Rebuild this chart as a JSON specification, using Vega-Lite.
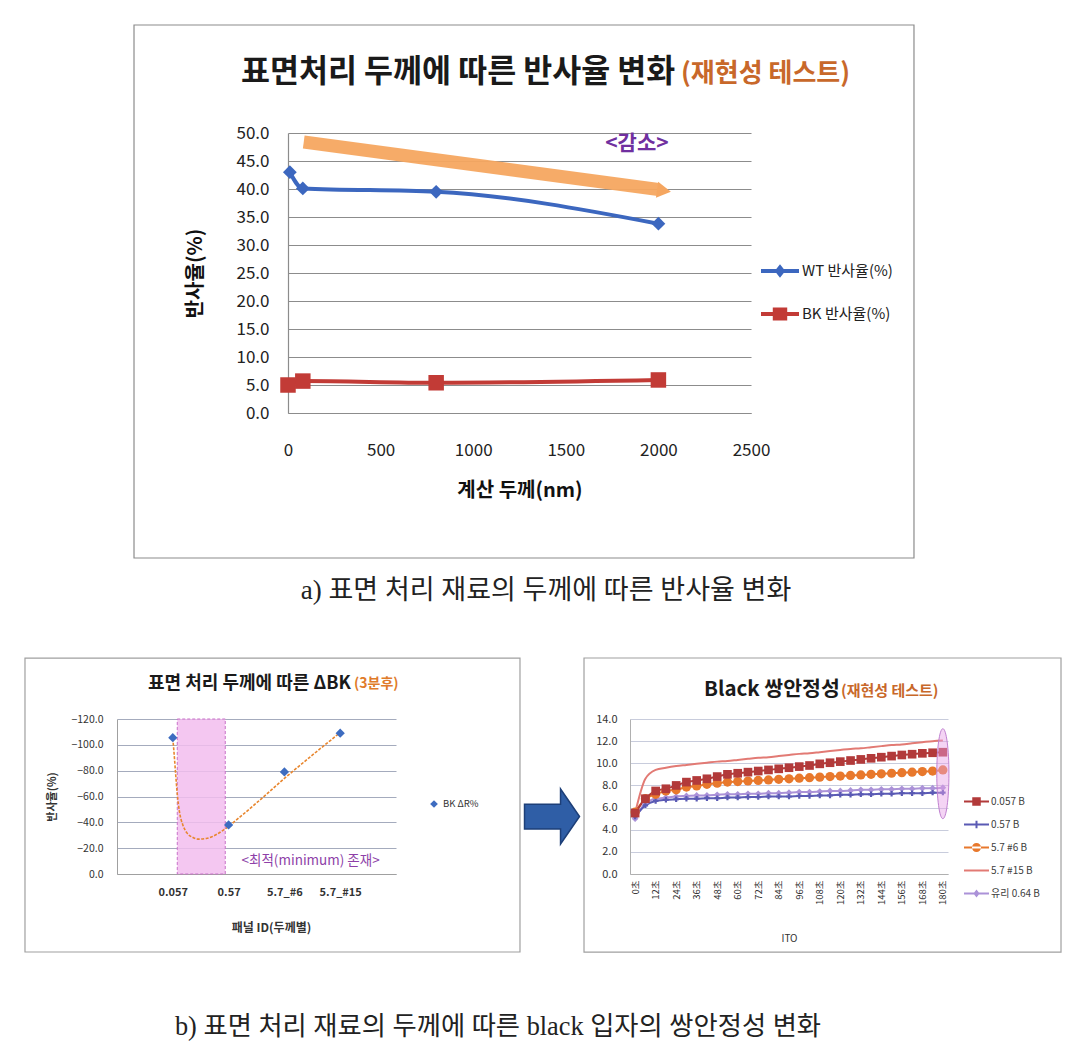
{
  "$schema": "https://vega.github.io/schema/vega-lite/v6.json",
  "background": "white",
  "padding": {"left": 24, "top": 24, "right": 0, "bottom": 0},
  "autosize": {"type": "pad"},
  "spacing": 36,
  "resolve": {
    "scale": {"color": "independent", "fill": "independent", "stroke": "independent", "shape": "independent"},
    "legend": {"color": "independent", "fill": "independent", "stroke": "independent", "shape": "independent"}
  },
  "config": {
    "font": "Noto Sans CJK KR",
    "view": {"stroke": null},
    "axis": {"labelFont": "Noto Sans CJK KR", "titleFont": "Noto Sans CJK KR", "labelFlush": false, "labelOverlap": false, "tickCount": 50},
    "legend": {"labelFont": "Noto Sans CJK KR"},
    "text": {"font": "Noto Sans CJK KR"}
  },
  "datasets": {
    "top": [
      {"series": "WT 반사율(%)", "thickness": 10, "reflectance": 43.0},
      {"series": "WT 반사율(%)", "thickness": 80, "reflectance": 40.1},
      {"series": "WT 반사율(%)", "thickness": 800, "reflectance": 39.5},
      {"series": "WT 반사율(%)", "thickness": 2000, "reflectance": 33.8},
      {"series": "BK 반사율(%)", "thickness": 0, "reflectance": 5.0},
      {"series": "BK 반사율(%)", "thickness": 80, "reflectance": 5.7},
      {"series": "BK 반사율(%)", "thickness": 800, "reflectance": 5.4},
      {"series": "BK 반사율(%)", "thickness": 2000, "reflectance": 5.9}
    ],
    "arrow": [
      {"thickness": 85, "reflectance": 48.4},
      {"thickness": 2000, "reflectance": 39.9}
    ],
    "dbk": [
      {"series": "BK ΔR%", "panel": 1, "dr": -105.5},
      {"series": "BK ΔR%", "panel": 2, "dr": -38},
      {"series": "BK ΔR%", "panel": 3, "dr": -79},
      {"series": "BK ΔR%", "panel": 4, "dr": -109}
    ],
    "trend": [
      {"panel": 1.0, "dr": -105}, {"panel": 1.02, "dr": -95}, {"panel": 1.05, "dr": -78},
      {"panel": 1.08, "dr": -62}, {"panel": 1.12, "dr": -48}, {"panel": 1.18, "dr": -38},
      {"panel": 1.25, "dr": -32}, {"panel": 1.35, "dr": -28.5}, {"panel": 1.45, "dr": -27},
      {"panel": 1.6, "dr": -27.5}, {"panel": 1.8, "dr": -31}, {"panel": 1.94, "dr": -35},
      {"panel": 2.2, "dr": -44}, {"panel": 2.5, "dr": -55}, {"panel": 3.0, "dr": -74},
      {"panel": 3.5, "dr": -92}, {"panel": 4.0, "dr": -109.5}
    ],
    "stab": [
      {"s":"0.057 B","t":0,"v":5.5},{"s":"0.057 B","t":6,"v":6.8},{"s":"0.057 B","t":12,"v":7.5},{"s":"0.057 B","t":18,"v":7.7},{"s":"0.057 B","t":24,"v":8.0},{"s":"0.057 B","t":30,"v":8.3},{"s":"0.057 B","t":36,"v":8.45},{"s":"0.057 B","t":42,"v":8.6},{"s":"0.057 B","t":48,"v":8.8},{"s":"0.057 B","t":54,"v":9.0},{"s":"0.057 B","t":60,"v":9.1},{"s":"0.057 B","t":66,"v":9.2},{"s":"0.057 B","t":72,"v":9.3},{"s":"0.057 B","t":78,"v":9.4},{"s":"0.057 B","t":84,"v":9.5},{"s":"0.057 B","t":90,"v":9.6},{"s":"0.057 B","t":96,"v":9.7},{"s":"0.057 B","t":102,"v":9.8},{"s":"0.057 B","t":108,"v":9.95},{"s":"0.057 B","t":114,"v":10.05},{"s":"0.057 B","t":120,"v":10.15},{"s":"0.057 B","t":126,"v":10.25},{"s":"0.057 B","t":132,"v":10.35},{"s":"0.057 B","t":138,"v":10.45},{"s":"0.057 B","t":144,"v":10.55},{"s":"0.057 B","t":150,"v":10.65},{"s":"0.057 B","t":156,"v":10.75},{"s":"0.057 B","t":162,"v":10.82},{"s":"0.057 B","t":168,"v":10.9},{"s":"0.057 B","t":174,"v":10.95},{"s":"0.057 B","t":180,"v":11.0},
      {"s":"0.57 B","t":0,"v":5.2},{"s":"0.57 B","t":6,"v":6.2},{"s":"0.57 B","t":12,"v":6.6},{"s":"0.57 B","t":18,"v":6.7},{"s":"0.57 B","t":24,"v":6.75},{"s":"0.57 B","t":30,"v":6.8},{"s":"0.57 B","t":36,"v":6.8},{"s":"0.57 B","t":42,"v":6.85},{"s":"0.57 B","t":48,"v":6.85},{"s":"0.57 B","t":54,"v":6.9},{"s":"0.57 B","t":60,"v":6.9},{"s":"0.57 B","t":66,"v":6.95},{"s":"0.57 B","t":72,"v":6.95},{"s":"0.57 B","t":78,"v":7.0},{"s":"0.57 B","t":84,"v":7.0},{"s":"0.57 B","t":90,"v":7.0},{"s":"0.57 B","t":96,"v":7.05},{"s":"0.57 B","t":102,"v":7.05},{"s":"0.57 B","t":108,"v":7.1},{"s":"0.57 B","t":114,"v":7.1},{"s":"0.57 B","t":120,"v":7.15},{"s":"0.57 B","t":126,"v":7.15},{"s":"0.57 B","t":132,"v":7.2},{"s":"0.57 B","t":138,"v":7.2},{"s":"0.57 B","t":144,"v":7.25},{"s":"0.57 B","t":150,"v":7.25},{"s":"0.57 B","t":156,"v":7.3},{"s":"0.57 B","t":162,"v":7.3},{"s":"0.57 B","t":168,"v":7.3},{"s":"0.57 B","t":174,"v":7.35},{"s":"0.57 B","t":180,"v":7.35},
      {"s":"5.7 #6 B","t":0,"v":5.6},{"s":"5.7 #6 B","t":6,"v":6.8},{"s":"5.7 #6 B","t":12,"v":7.2},{"s":"5.7 #6 B","t":18,"v":7.5},{"s":"5.7 #6 B","t":24,"v":7.6},{"s":"5.7 #6 B","t":30,"v":7.85},{"s":"5.7 #6 B","t":36,"v":7.95},{"s":"5.7 #6 B","t":42,"v":8.1},{"s":"5.7 #6 B","t":48,"v":8.2},{"s":"5.7 #6 B","t":54,"v":8.3},{"s":"5.7 #6 B","t":60,"v":8.35},{"s":"5.7 #6 B","t":66,"v":8.4},{"s":"5.7 #6 B","t":72,"v":8.45},{"s":"5.7 #6 B","t":78,"v":8.5},{"s":"5.7 #6 B","t":84,"v":8.55},{"s":"5.7 #6 B","t":90,"v":8.6},{"s":"5.7 #6 B","t":96,"v":8.65},{"s":"5.7 #6 B","t":102,"v":8.7},{"s":"5.7 #6 B","t":108,"v":8.75},{"s":"5.7 #6 B","t":114,"v":8.8},{"s":"5.7 #6 B","t":120,"v":8.85},{"s":"5.7 #6 B","t":126,"v":8.9},{"s":"5.7 #6 B","t":132,"v":8.95},{"s":"5.7 #6 B","t":138,"v":9.0},{"s":"5.7 #6 B","t":144,"v":9.05},{"s":"5.7 #6 B","t":150,"v":9.1},{"s":"5.7 #6 B","t":156,"v":9.15},{"s":"5.7 #6 B","t":162,"v":9.2},{"s":"5.7 #6 B","t":168,"v":9.25},{"s":"5.7 #6 B","t":174,"v":9.3},{"s":"5.7 #6 B","t":180,"v":9.4},
      {"s":"5.7 #15 B","t":0,"v":5.5},{"s":"5.7 #15 B","t":6,"v":8.6},{"s":"5.7 #15 B","t":12,"v":9.4},{"s":"5.7 #15 B","t":18,"v":9.6},{"s":"5.7 #15 B","t":24,"v":9.75},{"s":"5.7 #15 B","t":30,"v":9.85},{"s":"5.7 #15 B","t":36,"v":9.95},{"s":"5.7 #15 B","t":42,"v":10.05},{"s":"5.7 #15 B","t":48,"v":10.15},{"s":"5.7 #15 B","t":54,"v":10.2},{"s":"5.7 #15 B","t":60,"v":10.3},{"s":"5.7 #15 B","t":66,"v":10.4},{"s":"5.7 #15 B","t":72,"v":10.5},{"s":"5.7 #15 B","t":78,"v":10.55},{"s":"5.7 #15 B","t":84,"v":10.65},{"s":"5.7 #15 B","t":90,"v":10.75},{"s":"5.7 #15 B","t":96,"v":10.85},{"s":"5.7 #15 B","t":102,"v":10.9},{"s":"5.7 #15 B","t":108,"v":11.0},{"s":"5.7 #15 B","t":114,"v":11.1},{"s":"5.7 #15 B","t":120,"v":11.2},{"s":"5.7 #15 B","t":126,"v":11.3},{"s":"5.7 #15 B","t":132,"v":11.35},{"s":"5.7 #15 B","t":138,"v":11.45},{"s":"5.7 #15 B","t":144,"v":11.55},{"s":"5.7 #15 B","t":150,"v":11.65},{"s":"5.7 #15 B","t":156,"v":11.7},{"s":"5.7 #15 B","t":162,"v":11.8},{"s":"5.7 #15 B","t":168,"v":11.9},{"s":"5.7 #15 B","t":174,"v":12.0},{"s":"5.7 #15 B","t":180,"v":12.05},
      {"s":"유리 0.64 B","t":0,"v":5.0},{"s":"유리 0.64 B","t":6,"v":6.4},{"s":"유리 0.64 B","t":12,"v":6.8},{"s":"유리 0.64 B","t":18,"v":6.9},{"s":"유리 0.64 B","t":24,"v":7.0},{"s":"유리 0.64 B","t":30,"v":7.05},{"s":"유리 0.64 B","t":36,"v":7.1},{"s":"유리 0.64 B","t":42,"v":7.1},{"s":"유리 0.64 B","t":48,"v":7.15},{"s":"유리 0.64 B","t":54,"v":7.2},{"s":"유리 0.64 B","t":60,"v":7.2},{"s":"유리 0.64 B","t":66,"v":7.25},{"s":"유리 0.64 B","t":72,"v":7.25},{"s":"유리 0.64 B","t":78,"v":7.3},{"s":"유리 0.64 B","t":84,"v":7.3},{"s":"유리 0.64 B","t":90,"v":7.35},{"s":"유리 0.64 B","t":96,"v":7.4},{"s":"유리 0.64 B","t":102,"v":7.4},{"s":"유리 0.64 B","t":108,"v":7.45},{"s":"유리 0.64 B","t":114,"v":7.5},{"s":"유리 0.64 B","t":120,"v":7.5},{"s":"유리 0.64 B","t":126,"v":7.55},{"s":"유리 0.64 B","t":132,"v":7.6},{"s":"유리 0.64 B","t":138,"v":7.6},{"s":"유리 0.64 B","t":144,"v":7.65},{"s":"유리 0.64 B","t":150,"v":7.65},{"s":"유리 0.64 B","t":156,"v":7.7},{"s":"유리 0.64 B","t":162,"v":7.7},{"s":"유리 0.64 B","t":168,"v":7.75},{"s":"유리 0.64 B","t":174,"v":7.75},{"s":"유리 0.64 B","t":180,"v":7.8}
    ]
  },
  "vconcat": [
    {
      "hconcat": [
        {
          "width": 1,
          "height": 1,
          "data": {"values": [{}]},
          "mark": {"type": "point", "opacity": 0},
          "encoding": {}
        },
        {
          "width": 463,
          "height": 280,
          "layer": [
            {
              "data": {"values": [{}]},
              "mark": {"type": "rect", "opacity": 0, "fill": "white"},
              "encoding": {
                "x": {"datum": -1420, "type": "quantitative"},
                "x2": {"datum": 3380},
                "y": {"datum": 69.29, "type": "quantitative"},
                "y2": {"datum": -37.14}
              }
            },
            {
              "data": {"values": [{}]},
              "mark": {"type": "rect", "filled": false, "stroke": "#8c8c8c", "strokeWidth": 1.2},
              "encoding": {
                "x": {"datum": -831.5, "type": "quantitative"},
                "x2": {"datum": 3380},
                "y": {"datum": 69.29, "type": "quantitative"},
                "y2": {"datum": -25.89}
              }
            },
            {
              "data": {"name": "arrow"},
              "mark": {"type": "line", "color": "#f5a660", "strokeWidth": 13, "strokeCap": "butt", "opacity": 0.95},
              "encoding": {
                "x": {"field": "thickness", "type": "quantitative"},
                "y": {"field": "reflectance", "type": "quantitative"}
              }
            },
            {
              "data": {"values": [{}]},
              "mark": {"type": "point", "shape": "triangle-right", "filled": true, "color": "#f5a660", "opacity": 1, "size": 260, "angle": 8},
              "encoding": {
                "x": {"datum": 2030, "type": "quantitative"},
                "y": {"datum": 39.7, "type": "quantitative"}
              }
            },
            {
              "data": {"name": "top"},
              "transform": [{"filter": {"field": "series", "equal": "WT 반사율(%)"}}],
              "mark": {"type": "line", "strokeWidth": 4, "interpolate": "monotone", "color": "#3c67bf"},
              "encoding": {
                "x": {
                  "field": "thickness", "type": "quantitative",
                  "scale": {"domain": [0, 2500], "nice": false, "zero": false},
                  "axis": {
                    "title": "계산 두께(nm)", "values": [0, 500, 1000, 1500, 2000, 2500], "format": "d",
                    "grid": false, "ticks": false, "tickSize": 0, "domainColor": "#8c8c8c", "domainWidth": 1.2,
                    "labelFontSize": 17, "labelColor": "#222", "labelPadding": 29,
                    "titleFontSize": 20, "titleFontWeight": "bold", "titleColor": "#111", "titlePadding": 22
                  }
                },
                "y": {
                  "field": "reflectance", "type": "quantitative",
                  "scale": {"domain": [0, 50], "nice": false, "zero": false},
                  "axis": {
                    "title": "반사율(%)", "values": [0, 5, 10, 15, 20, 25, 30, 35, 40, 45, 50], "format": ".1f",
                    "grid": true, "gridColor": "#8c8c8c", "gridWidth": 1.2, "ticks": false, "tickSize": 0,
                    "domainColor": "#8c8c8c", "domainWidth": 1.2,
                    "labelFontSize": 17, "labelColor": "#222", "labelPadding": 19,
                    "titleFontSize": 20, "titleFontWeight": "bold", "titleColor": "#111", "titlePadding": 30
                  }
                }
              }
            },
            {
              "data": {"name": "top"},
              "transform": [{"filter": {"field": "series", "equal": "BK 반사율(%)"}}],
              "mark": {"type": "line", "strokeWidth": 4, "interpolate": "monotone", "color": "#c23b36"},
              "encoding": {
                "x": {"field": "thickness", "type": "quantitative"},
                "y": {"field": "reflectance", "type": "quantitative"}
              }
            },
            {
              "data": {"name": "top"},
              "transform": [{"filter": {"field": "series", "equal": "WT 반사율(%)"}}],
              "mark": {"type": "point", "shape": "diamond", "filled": true, "opacity": 1, "color": "#3c67bf", "size": 190},
              "encoding": {
                "x": {"field": "thickness", "type": "quantitative"},
                "y": {"field": "reflectance", "type": "quantitative"}
              }
            },
            {
              "data": {"name": "top"},
              "transform": [{"filter": {"field": "series", "equal": "BK 반사율(%)"}}],
              "mark": {"type": "point", "shape": "square", "filled": true, "opacity": 1, "color": "#c23b36", "size": 240},
              "encoding": {
                "x": {"field": "thickness", "type": "quantitative"},
                "y": {"field": "reflectance", "type": "quantitative"}
              }
            },
            {
              "data": {"name": "top"},
              "transform": [{"filter": "false"}],
              "mark": {"type": "point", "filled": true, "opacity": 1},
              "encoding": {
                "fill": {
                  "field": "series", "type": "nominal",
                  "scale": {"domain": ["WT 반사율(%)", "BK 반사율(%)"], "range": ["#3c67bf", "#c23b36"]},
                  "legend": {
                    "orient": "none", "legendX": 473, "legendY": 119, "title": null,
                    "symbolSize": 1444, "symbolStrokeWidth": 0, "labelFontSize": 15, "labelColor": "#222",
                    "labelOffset": 3, "rowPadding": 16
                  }
                },
                "shape": {
                  "field": "series", "type": "nominal",
                  "scale": {
                    "domain": ["WT 반사율(%)", "BK 반사율(%)"],
                    "range": [
                      "M-1,-0.1H1V0.1H-1Z M0,-0.36L0.28,0L0,0.36L-0.28,0Z",
                      "M-1,-0.1H1V0.1H-1Z M-0.38,-0.34H0.38V0.34H-0.38Z"
                    ]
                  }
                }
              }
            },
            {
              "data": {"values": [{}]},
              "mark": {"type": "text", "align": "left", "baseline": "middle", "fontSize": 31.5, "fontWeight": "bold", "color": "#1a1a1a"},
              "encoding": {
                "x": {"datum": -253.8, "type": "quantitative"},
                "y": {"datum": 60.71, "type": "quantitative"},
                "text": {"value": "표면처리 두께에 따른 반사율 변화"}
              }
            },
            {
              "data": {"values": [{}]},
              "mark": {"type": "text", "align": "left", "baseline": "middle", "fontSize": 26, "fontWeight": "bold", "color": "#c8682a"},
              "encoding": {
                "x": {"datum": 2122, "type": "quantitative"},
                "y": {"datum": 60.5, "type": "quantitative"},
                "text": {"value": "(재현성 테스트)"}
              }
            },
            {
              "data": {"values": [{}]},
              "mark": {"type": "text", "align": "center", "baseline": "middle", "fontSize": 21, "fontWeight": "bold", "color": "#7030a0"},
              "encoding": {
                "x": {"datum": 1884, "type": "quantitative"},
                "y": {"datum": 48.0, "type": "quantitative"},
                "text": {"value": "<감소>"}
              }
            },
            {
              "data": {"values": [{}]},
              "mark": {"type": "text", "align": "center", "baseline": "middle", "fontSize": 27, "color": "#222", "font": "Liberation Serif, Noto Sans CJK KR"},
              "encoding": {
                "x": {"datum": 1393, "type": "quantitative"},
                "y": {"datum": -31.79, "type": "quantitative"},
                "text": {"value": "a) 표면 처리 재료의 두께에 따른 반사율 변화"}
              }
            }
          ]
        }
      ],
      "spacing": 170,
      "bounds": "flush",
      "resolve": {
        "scale": {"color": "independent", "fill": "independent", "stroke": "independent", "shape": "independent"},
        "legend": {"color": "independent", "fill": "independent", "stroke": "independent", "shape": "independent"}
      }
    },
    {
      "hconcat": [
        {
          "width": 279,
          "height": 155,
          "layer": [
            {
              "data": {"values": [{}]},
              "mark": {"type": "rect", "filled": false, "stroke": "#a0a0a0", "strokeWidth": 1.2},
              "encoding": {
                "x": {"datum": -1.649, "type": "quantitative"},
                "x2": {"datum": 7.222},
                "y": {"datum": -167.2, "type": "quantitative"},
                "y2": {"datum": 60.4}
              }
            },
            {
              "data": {"values": [{}]},
              "mark": {"type": "rect", "fill": "#f2bdee", "fillOpacity": 0.85, "stroke": "#c870c8", "strokeDash": [3, 2], "strokeWidth": 1},
              "encoding": {
                "x": {"datum": 1.08, "type": "quantitative"},
                "x2": {"datum": 1.94},
                "y": {"datum": 0, "type": "quantitative"},
                "y2": {"datum": -120}
              }
            },
            {
              "data": {"name": "trend"},
              "mark": {"type": "line", "color": "#e8862e", "strokeWidth": 1.6, "strokeDash": [3, 1.5], "interpolate": "monotone"},
              "encoding": {
                "x": {
                  "field": "panel", "type": "quantitative",
                  "scale": {"domain": [0, 5], "nice": false, "zero": false},
                  "axis": {
                    "title": "패널 ID(두께별)", "values": [1, 2, 3, 4],
                    "labelExpr": "datum.value == 1 ? '0.057' : datum.value == 2 ? '0.57' : datum.value == 3 ? '5.7_#6' : datum.value == 4 ? '5.7_#15' : ''",
                    "grid": false, "ticks": false, "tickSize": 0, "domainColor": "#a0a0a0",
                    "labelFontSize": 11, "labelFontWeight": "bold", "labelColor": "#333", "labelPadding": 12, "labelDx": 6,
                    "titleFontSize": 12, "titleFontWeight": "bold", "titleColor": "#333", "titlePadding": 25, "titleX": 154
                  }
                },
                "y": {
                  "field": "dr", "type": "quantitative",
                  "scale": {"domain": [0, -120], "nice": false, "zero": false},
                  "axis": {
                    "title": "반사율(%)", "values": [0, -20, -40, -60, -80, -100, -120], "format": ".1f",
                    "grid": true, "gridColor": "#a4abbd", "ticks": false, "tickSize": 0, "domainColor": "#a0a0a0",
                    "labelFontSize": 10.5, "labelColor": "#333", "labelPadding": 14,
                    "titleFontSize": 11, "titleFontWeight": "bold", "titleColor": "#333", "titlePadding": 13
                  }
                }
              }
            },
            {
              "data": {"name": "dbk"},
              "mark": {"type": "point", "shape": "diamond", "filled": true, "opacity": 1, "size": 85},
              "encoding": {
                "x": {"field": "panel", "type": "quantitative"},
                "y": {"field": "dr", "type": "quantitative"},
                "color": {
                  "field": "series", "type": "nominal",
                  "scale": {"domain": ["BK ΔR%"], "range": ["#3d6cc0"]},
                  "legend": {
                    "orient": "none", "legendX": 312, "legendY": 80, "title": null,
                    "symbolSize": 60, "labelFontSize": 9.5, "labelColor": "#333", "labelOffset": 4
                  }
                }
              }
            },
            {
              "data": {"values": [{}]},
              "mark": {"type": "text", "align": "center", "baseline": "middle", "fontSize": 13.5, "color": "#8e3fa8"},
              "encoding": {
                "x": {"datum": 3.47, "type": "quantitative"},
                "y": {"datum": -9.8, "type": "quantitative"},
                "text": {"value": "<최적(minimum) 존재>"}
              }
            },
            {
              "data": {"values": [{}]},
              "mark": {"type": "text", "align": "left", "baseline": "middle", "fontSize": 18, "fontWeight": "bold", "color": "#1a1a1a"},
              "encoding": {
                "x": {"datum": 0.556, "type": "quantitative"},
                "y": {"datum": -147.1, "type": "quantitative"},
                "text": {"value": "표면 처리 두께에 따른 ΔBK"}
              }
            },
            {
              "data": {"values": [{}]},
              "mark": {"type": "text", "align": "left", "baseline": "middle", "fontSize": 14, "fontWeight": "bold", "color": "#e07b2a"},
              "encoding": {
                "x": {"datum": 4.247, "type": "quantitative"},
                "y": {"datum": -147.1, "type": "quantitative"},
                "text": {"value": "(3분후)"}
              }
            },
            {
              "data": {"values": [{}]},
              "mark": {
                "type": "point", "filled": true, "opacity": 1, "size": 3025,
                "shape": "M-1,-0.45L0.31,-0.45L0.31,-1L1,0L0.31,1L0.31,0.45L-1,0.45Z",
                "fill": "#2f5ea6", "stroke": "#1d3f78", "strokeWidth": 1.5
              },
              "encoding": {
                "x": {"datum": 7.796, "type": "quantitative"},
                "y": {"datum": -44.5, "type": "quantitative"}
              }
            },
            {
              "data": {"values": [{}]},
              "mark": {"type": "text", "align": "center", "baseline": "middle", "fontSize": 26.3, "color": "#222", "font": "Liberation Serif, Noto Sans CJK KR"},
              "encoding": {
                "x": {"datum": 6.828, "type": "quantitative"},
                "y": {"datum": 118.45, "type": "quantitative"},
                "text": {"value": "b) 표면 처리 재료의 두께에 따른 black 입자의 쌍안정성 변화"}
              }
            }
          ]
        },
        {
          "width": 318,
          "height": 155,
          "layer": [
            {
              "data": {"values": [{}]},
              "mark": {"type": "rect", "filled": false, "stroke": "#a0a0a0", "strokeWidth": 1.2},
              "encoding": {
                "x": {"datum": -29.9, "type": "quantitative"},
                "x2": {"datum": 249.1},
                "y": {"datum": 19.51, "type": "quantitative"},
                "y2": {"datum": -7.05}
              }
            },
            {
              "data": {"name": "stab"},
              "transform": [{"filter": {"field": "s", "equal": "5.7 #15 B"}}],
              "mark": {"type": "line", "strokeWidth": 2, "interpolate": "monotone", "color": "#e27a74"},
              "encoding": {
                "x": {
                  "field": "t", "type": "quantitative",
                  "scale": {"domain": [-3, 183], "nice": false, "zero": false},
                  "axis": {
                    "title": "ITO", "values": [0, 12, 24, 36, 48, 60, 72, 84, 96, 108, 120, 132, 144, 156, 168, 180],
                    "labelExpr": "datum.value + '초'", "labelAngle": 270,
                    "grid": false, "ticks": false, "tickSize": 0, "domainColor": "#b0b0b0",
                    "labelFontSize": 9.5, "labelColor": "#333", "labelPadding": 6,
                    "titleFontSize": 10, "titleFontWeight": "normal", "titleColor": "#333", "titlePadding": 29
                  }
                },
                "y": {
                  "field": "v", "type": "quantitative",
                  "scale": {"domain": [0, 14], "nice": false, "zero": false},
                  "axis": {
                    "title": null, "values": [0, 2, 4, 6, 8, 10, 12, 14], "format": ".1f",
                    "grid": true, "gridColor": "#c8ccdc", "ticks": false, "tickSize": 0, "domainColor": "#b0b0b0",
                    "labelFontSize": 11, "labelColor": "#333", "labelPadding": 13
                  }
                }
              }
            },
            {
              "data": {"name": "stab"},
              "transform": [{"filter": {"field": "s", "equal": "유리 0.64 B"}}],
              "mark": {"type": "line", "strokeWidth": 2, "interpolate": "monotone", "color": "#ab92d8"},
              "encoding": {"x": {"field": "t", "type": "quantitative"}, "y": {"field": "v", "type": "quantitative"}}
            },
            {
              "data": {"name": "stab"},
              "transform": [{"filter": {"field": "s", "equal": "0.57 B"}}],
              "mark": {"type": "line", "strokeWidth": 2, "interpolate": "monotone", "color": "#5a5ab4"},
              "encoding": {"x": {"field": "t", "type": "quantitative"}, "y": {"field": "v", "type": "quantitative"}}
            },
            {
              "data": {"name": "stab"},
              "transform": [{"filter": {"field": "s", "equal": "5.7 #6 B"}}],
              "mark": {"type": "line", "strokeWidth": 2, "interpolate": "monotone", "color": "#e8782c"},
              "encoding": {"x": {"field": "t", "type": "quantitative"}, "y": {"field": "v", "type": "quantitative"}}
            },
            {
              "data": {"name": "stab"},
              "transform": [{"filter": {"field": "s", "equal": "0.057 B"}}],
              "mark": {"type": "line", "strokeWidth": 2, "interpolate": "monotone", "color": "#b23a3a"},
              "encoding": {"x": {"field": "t", "type": "quantitative"}, "y": {"field": "v", "type": "quantitative"}}
            },
            {
              "data": {"name": "stab"},
              "transform": [{"filter": {"field": "s", "equal": "유리 0.64 B"}}],
              "mark": {"type": "point", "shape": "diamond", "filled": true, "opacity": 1, "color": "#ab92d8", "size": 45},
              "encoding": {"x": {"field": "t", "type": "quantitative"}, "y": {"field": "v", "type": "quantitative"}}
            },
            {
              "data": {"name": "stab"},
              "transform": [{"filter": {"field": "s", "equal": "0.57 B"}}],
              "mark": {"type": "point", "shape": "cross", "filled": true, "opacity": 1, "color": "#5a5ab4", "size": 30},
              "encoding": {"x": {"field": "t", "type": "quantitative"}, "y": {"field": "v", "type": "quantitative"}}
            },
            {
              "data": {"name": "stab"},
              "transform": [{"filter": {"field": "s", "equal": "5.7 #6 B"}}],
              "mark": {"type": "point", "shape": "circle", "filled": true, "opacity": 1, "color": "#e8782c", "size": 85},
              "encoding": {"x": {"field": "t", "type": "quantitative"}, "y": {"field": "v", "type": "quantitative"}}
            },
            {
              "data": {"name": "stab"},
              "transform": [{"filter": {"field": "s", "equal": "0.057 B"}}],
              "mark": {"type": "point", "shape": "square", "filled": true, "opacity": 1, "color": "#b23a3a", "size": 75},
              "encoding": {"x": {"field": "t", "type": "quantitative"}, "y": {"field": "v", "type": "quantitative"}}
            },
            {
              "data": {"values": [{}]},
              "mark": {
                "type": "point", "filled": true, "opacity": 1, "size": 8100,
                "shape": "M0,-1A0.135,1 0 1,1 0,1A0.135,1 0 1,1 0,-1Z",
                "fill": "#e6a0e6", "fillOpacity": 0.45, "stroke": "#c080d0", "strokeWidth": 1
              },
              "encoding": {
                "x": {"datum": 180, "type": "quantitative"},
                "y": {"datum": 9.06, "type": "quantitative"}
              }
            },
            {
              "data": {"name": "stab"},
              "transform": [{"filter": "false"}],
              "mark": {"type": "point", "filled": true, "opacity": 1},
              "encoding": {
                "fill": {
                  "field": "s", "type": "nominal",
                  "scale": {
                    "domain": ["0.057 B", "0.57 B", "5.7 #6 B", "5.7 #15 B", "유리 0.64 B"],
                    "range": ["#b23a3a", "#5a5ab4", "#e8782c", "#e27a74", "#ab92d8"]
                  },
                  "legend": {
                    "orient": "none", "legendX": 334, "legendY": 70, "title": null,
                    "symbolSize": 625, "symbolStrokeWidth": 0, "labelFontSize": 10, "labelColor": "#404040",
                    "labelOffset": 2, "rowPadding": 5
                  }
                },
                "shape": {
                  "field": "s", "type": "nominal",
                  "scale": {
                    "domain": ["0.057 B", "0.57 B", "5.7 #6 B", "5.7 #15 B", "유리 0.64 B"],
                    "range": [
                      "M-1,-0.08H1V0.08H-1Z M-0.34,-0.34H0.34V0.34H-0.34Z",
                      "M-1,-0.08H1V0.08H-1Z M-0.08,-0.3H0.08V0.3H-0.08Z",
                      "M-1,-0.08H1V0.08H-1Z M-0.36,0A0.36,0.36 0 1,0 0.36,0A0.36,0.36 0 1,0 -0.36,0Z",
                      "M-1,-0.08H1V0.08H-1Z",
                      "M-1,-0.08H1V0.08H-1Z M0,-0.32L0.25,0L0,0.32L-0.25,0Z"
                    ]
                  }
                }
              }
            },
            {
              "data": {"values": [{}]},
              "mark": {"type": "text", "align": "left", "baseline": "middle", "fontSize": 20.5, "fontWeight": "bold", "color": "#1a1a1a"},
              "encoding": {
                "x": {"datum": 40.28, "type": "quantitative"},
                "y": {"datum": 16.62, "type": "quantitative"},
                "text": {"value": "Black 쌍안정성"}
              }
            },
            {
              "data": {"values": [{}]},
              "mark": {"type": "text", "align": "left", "baseline": "middle", "fontSize": 15, "fontWeight": "bold", "color": "#c8682a"},
              "encoding": {
                "x": {"datum": 120.4, "type": "quantitative"},
                "y": {"datum": 16.5, "type": "quantitative"},
                "text": {"value": "(재현성 테스트)"}
              }
            }
          ]
        }
      ],
      "spacing": 234,
      "bounds": "flush",
      "resolve": {
        "scale": {"color": "independent", "fill": "independent", "stroke": "independent", "shape": "independent"},
        "legend": {"color": "independent", "fill": "independent", "stroke": "independent", "shape": "independent"}
      }
    }
  ]
}
